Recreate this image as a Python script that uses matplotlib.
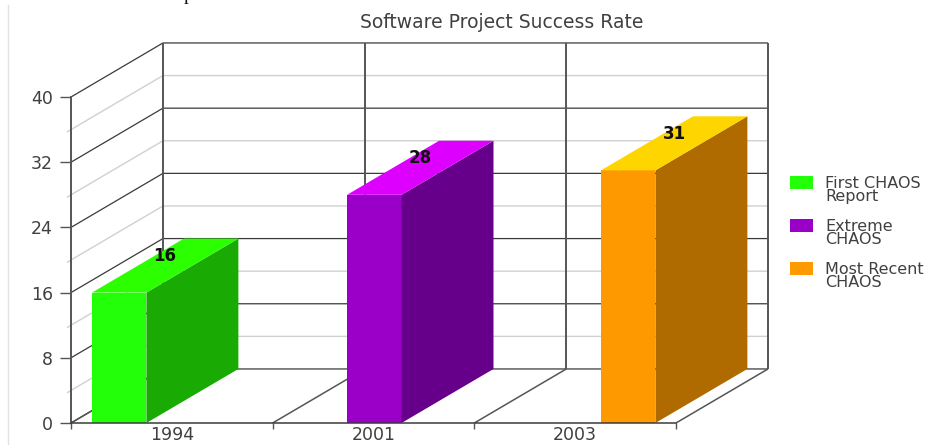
import matplotlib
matplotlib.use('Agg')
import matplotlib.pyplot as plt
from matplotlib.lines import Line2D
from matplotlib.patches import Polygon, Rectangle

years = ['1994', '2001', '2003']
values = [16, 28, 31]
series_names = ['First CHAOS\nReport', 'Extreme\nCHAOS', 'Most Recent\nCHAOS']
front_colors = ['#22FF08', '#9A00C8', '#FF9900']
side_colors = ['#19AB04', '#66008A', '#B06B00']
top_colors = ['#2BFF00', '#DD00FF', '#FFD500']
y_major = [0, 8, 16, 24, 32, 40]
y_minor = [4, 12, 20, 28, 36]

plt.rcParams['font.family'] = ['DejaVu Sans']
W, H = 949, 445
fig = plt.figure(figsize=(W / 100, H / 100), dpi=100)
ax = fig.add_axes([71 / W, (H - 423) / H, 605 / W, 326 / H])
ax.set_xlim(0, 3)
ax.set_ylim(0, 40)

# depth of the fake 3d box, in data units
dx = 0.456
dy = 6.63
bar_w = 0.27
bar_left = [0.104, 1.369, 2.628]
dark = '#3a3a3a'
edge = '#555555'
light = '#d0d0d0'
txt = '#404040'


def line(xs, ys, color, lw, z=1):
    ax.plot(xs, ys, color=color, lw=lw, zorder=z, clip_on=False, solid_capstyle='butt')


# walls: light lines first, dark ones on top
for v in y_minor:
    line([-0.02, 0, dx, 3 + dx], [v - 0.3, v, v + dy, v + dy], light, 1.0)
for v in y_major:
    line([0, dx, 3 + dx], [v, v + dy, v + dy], dark, 0.9, 2)
for c in range(4):
    line([c + dx, c + dx], [dy, 40 + dy], edge, 1.4, 2)
    line([c, c + dx], [0, dy], edge, 1.1, 2)

for i in range(3):
    l = bar_left[i]
    v = values[i]
    ax.bar(l, v, bar_w, align='edge', color=front_colors[i], zorder=5, clip_on=False)
    ax.add_patch(Polygon([(l + bar_w, 0), (l + bar_w + dx, dy), (l + bar_w + dx, v + dy), (l + bar_w, v)],
                         closed=True, fc=side_colors[i], ec='none', zorder=5, clip_on=False))
    ax.add_patch(Polygon([(l, v), (l + dx, v + dy), (l + bar_w + dx, v + dy), (l + bar_w, v)],
                         closed=True, fc=top_colors[i], ec='none', zorder=5, clip_on=False))
    ax.text(l + bar_w / 2 + dx / 2, v + dy * 0.68, str(v), ha='center', va='center', fontsize=12,
            fontweight='bold', color='#111111', zorder=6, clip_on=False)

for s in ['top', 'right']:
    ax.spines[s].set_visible(False)
ax.spines['left'].set_color(edge)
ax.spines['left'].set_linewidth(1.4)
ax.spines['bottom'].set_color(dark)
ax.spines['bottom'].set_linewidth(1.1)
ax.spines['left'].set_zorder(7)
ax.spines['bottom'].set_zorder(7)
ax.patch.set_visible(False)

ax.set_yticks(y_major)
ax.tick_params(axis='y', length=8, width=1, color=edge, labelcolor=txt, labelsize=12.5, pad=5)
ax.set_xticks([0, 1, 2, 3])
ax.set_xticklabels([])
ax.tick_params(axis='x', which='major', length=4, width=1, color=edge)
ax.set_xticks([0.5, 1.5, 2.5], minor=True)
ax.set_xticklabels(years, minor=True)
ax.tick_params(axis='x', which='minor', length=0, labelcolor=txt, labelsize=12.5, pad=2)

fig.text(502 / W, 1 - 22 / H, 'Software Project Success Rate', ha='center', va='center',
         fontsize=13.5, color=txt)

# legend by hand, the swatch sits on the first text line and not in the middle
for i in range(3):
    y_top = 176 + 43 * i
    fig.add_artist(Rectangle((790 / W, 1 - (y_top + 13) / H), 23 / W, 13 / H, fc=front_colors[i], ec='none',
                             transform=fig.transFigure))
    fig.text(825 / W, 1 - (y_top + 14) / H, series_names[i], ha='left', va='center', fontsize=11.5,
             color=txt, linespacing=0.9)

# page edge and clipped text of the document the chart was cut from
fig.add_artist(Line2D([7.5 / W, 7.5 / W], [0, 1 - 5 / H], color='#e2e2e2', lw=1))
fig.text(188 / W, 1.0, 'p', family='Liberation Serif', fontsize=14, color='#111111', ha='center', va='baseline')

fig.savefig('out.png', dpi=100)
